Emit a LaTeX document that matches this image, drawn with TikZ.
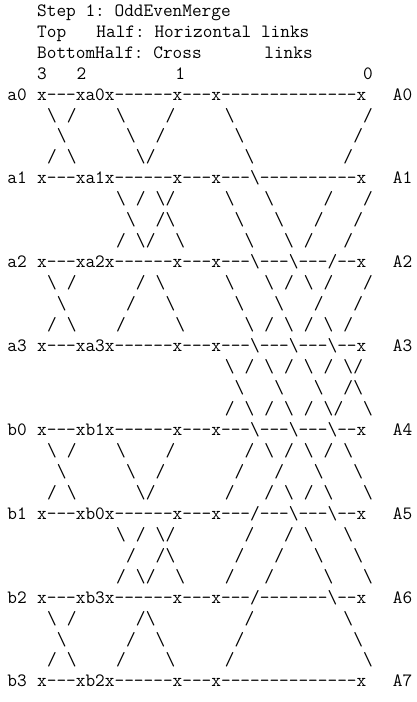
\documentclass[tikz,border=0pt]{standalone}
\ExplSyntaxOn
\cs_new:Npn \dashrun #1 { \prg_replicate:nn {#1} { \mbox{-} } }
\ExplSyntaxOff
\newcommand\colx[1]{7.5+9.88*#1}
\newcommand\rowy[1]{16.2+20.96*#1}
\newcommand\bsl{\textbackslash}
\tikzset{
  ascii/.style={anchor=base west, inner sep=0pt, outer sep=0pt,
    font=\fontsize{18.8}{21}\selectfont\ttfamily\frenchspacing},
}
\begin{document}
\begin{tikzpicture}[x=1pt,y=-1pt]
\fill[white] (0,0) rectangle (417,702);
\useasboundingbox (0,0) rectangle (417,702);
% header
\node[ascii] (h0) at ({\colx{3}},{\rowy{0}}) {Step 1: OddEvenMerge};
\node[ascii] (h1a) at ({\colx{3}},{\rowy{1}}) {Top};
\node[ascii] (h1b) at ({\colx{9}},{\rowy{1}}) {Half: Horizontal links};
\node[ascii] (h2a) at ({\colx{3}},{\rowy{2}}) {BottomHalf: Cross};
\node[ascii] (h2b) at ({\colx{26}},{\rowy{2}}) {links};
\foreach \c/\t in {3/3, 7/2, 17/1, 36/0}
  \node[ascii] (d\t) at ({\colx{\c}},{\rowy{3}}) {\t};
% rows with x nodes
\foreach \r/\l/\R in {4/a0/A0, 8/a1/A1, 12/a2/A2, 16/a3/A3,
                      20/b0/A4, 24/b1/A5, 28/b2/A6, 32/b3/A7}{
  \node[ascii] (L\r) at ({\colx{0}},{\rowy{\r}}) {\l};
  \node[ascii] (R\r) at ({\colx{39}},{\rowy{\r}}) {\R};
}
\node[ascii] (M4)  at ({\colx{3}},{\rowy{4}})  {x\dashrun{3}xa0x\dashrun{6}x\dashrun{3}x\dashrun{14}x};
\node[ascii] (M8)  at ({\colx{3}},{\rowy{8}})  {x\dashrun{3}xa1x\dashrun{6}x\dashrun{3}x\dashrun{3}\bsl\dashrun{10}x};
\node[ascii] (M12) at ({\colx{3}},{\rowy{12}}) {x\dashrun{3}xa2x\dashrun{6}x\dashrun{3}x\dashrun{3}\bsl\dashrun{3}\bsl\dashrun{3}/\dashrun{2}x};
\node[ascii] (M16) at ({\colx{3}},{\rowy{16}}) {x\dashrun{3}xa3x\dashrun{6}x\dashrun{3}x\dashrun{3}\bsl\dashrun{3}\bsl\dashrun{3}\bsl\dashrun{2}x};
\node[ascii] (M20) at ({\colx{3}},{\rowy{20}}) {x\dashrun{3}xb1x\dashrun{6}x\dashrun{3}x\dashrun{3}\bsl\dashrun{3}\bsl\dashrun{3}\bsl\dashrun{2}x};
\node[ascii] (M24) at ({\colx{3}},{\rowy{24}}) {x\dashrun{3}xb0x\dashrun{6}x\dashrun{3}x\dashrun{3}/\dashrun{3}\bsl\dashrun{3}\bsl\dashrun{2}x};
\node[ascii] (M28) at ({\colx{3}},{\rowy{28}}) {x\dashrun{3}xb3x\dashrun{6}x\dashrun{3}x\dashrun{3}/\dashrun{7}\bsl\dashrun{2}x};
\node[ascii] (M32) at ({\colx{3}},{\rowy{32}}) {x\dashrun{3}xb2x\dashrun{6}x\dashrun{3}x\dashrun{14}x};
% backslash links
\foreach \r/\c in {5/4,5/11,5/22, 6/5,6/12,6/23, 7/6,7/13,7/24,
  9/11,9/15,9/22,9/26, 10/12,10/16,10/23,10/27, 11/13,11/17,11/24,11/28,
  13/4,13/15,13/22,13/26,13/30, 14/5,14/16,14/23,14/27, 15/6,15/17,15/24,15/28,15/32,
  17/22,17/26,17/30,17/34, 18/23,18/27,18/31,18/35, 19/24,19/28,19/32,19/36,
  21/4,21/11,21/26,21/30,21/34, 22/5,22/12,22/31,22/35, 23/6,23/13,23/28,23/32,23/36,
  25/11,25/15,25/30,25/34, 26/16,26/31,26/35, 27/13,27/17,27/32,27/36,
  29/4,29/14,29/34, 30/5,30/15,30/35, 31/6,31/16,31/36}
  \node[ascii] (bs-\r-\c) at ({\colx{\c}},{\rowy{\r}}) {\bsl};
% slash links
\foreach \r/\c in {5/6,5/16,5/36, 6/15,6/35, 7/4,7/14,7/34,
  9/13,9/16,9/32,9/36, 10/15,10/31,10/35, 11/11,11/14,11/30,11/34,
  13/6,13/13,13/28,13/32,13/36, 14/12,14/31,14/35, 15/4,15/11,15/26,15/30,15/34,
  17/24,17/28,17/32,17/35, 18/34, 19/22,19/26,19/30,19/33,
  21/6,21/16,21/24,21/28,21/32, 22/15,22/23,22/27, 23/4,23/14,23/22,23/26,23/30,
  25/13,25/16,25/24,25/28, 26/12,26/15,26/23,26/27, 27/11,27/14,27/22,27/26,
  29/6,29/13,29/24, 30/12,30/23, 31/4,31/11,31/22}
  \node[ascii] (sl-\r-\c) at ({\colx{\c}},{\rowy{\r}}) {/};
\end{tikzpicture}
\end{document}
